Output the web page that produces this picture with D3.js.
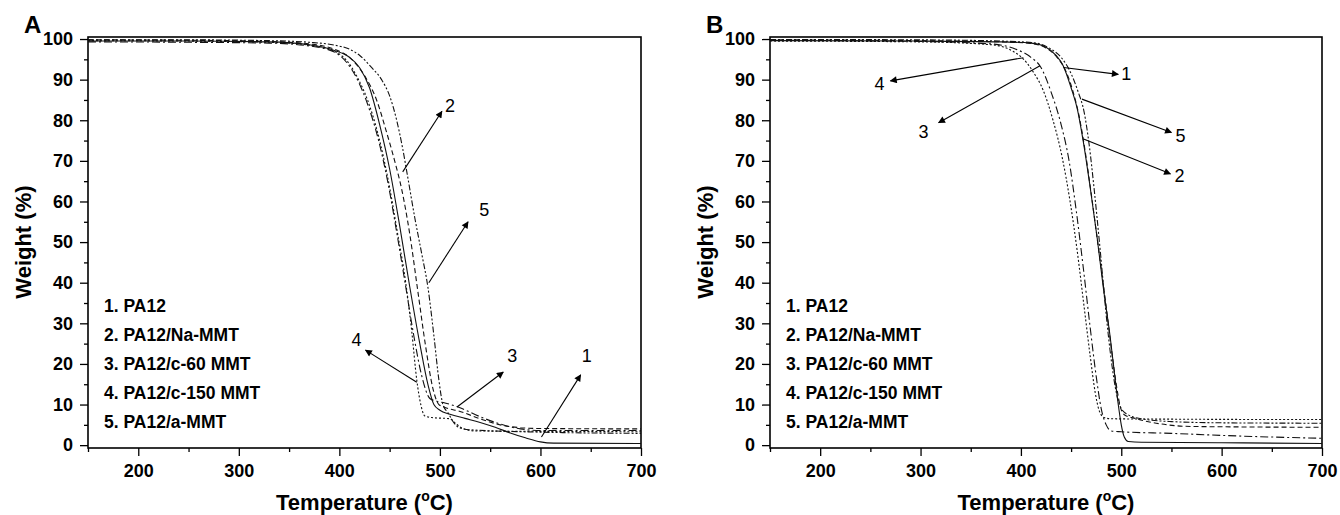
<!DOCTYPE html>
<html>
<head>
<meta charset="utf-8">
<script src="https://cdn.jsdelivr.net/npm/d3@7"></script>
<style>
  body { margin: 0; background: #fff; }
  svg { font-family: "Liberation Sans", Arial, sans-serif; }
</style>
</head>
<body>
<script>
// tick values
var xTicks = [200, 300, 400, 500, 600, 700];
var xMinor = [150, 250, 350, 450, 550, 650];
var yTicks = [0, 10, 20, 30, 40, 50, 60, 70, 80, 90, 100];
var yMinor = [5, 15, 25, 35, 45, 55, 65, 75, 85, 95];

var legendNames = ["1. PA12", "2. PA12/Na-MMT", "3. PA12/c-60 MMT", "4. PA12/c-150 MMT", "5. PA12/a-MMT"];

// panel A curves [temperature, weight]
var a1 = [[150,99.5],[250,99.5],[330,99.3],[370,98.6],[395,97.2],[410,95.5],[420,93],[430,88],[440,79],[450,68],[460,54],[470,39],[480,25],[488,15],[494,10],[500,8.6],[510,7.6],[525,6.6],[540,5.6],[555,4.4],[570,3],[585,1.8],[600,0.8],[613,0.5],[700,0.4]];
var a2 = [[150,99.8],[250,99.7],[330,99.4],[370,98.8],[395,97.5],[410,95.5],[425,91],[437,85],[447,77],[455,70],[462,63],[470,52],[478,38],[486,24],[493,14],[499,10],[505,9.3],[520,8.3],[540,6.5],[560,5],[580,4.3],[600,4.1],[700,4.0]];
var a3 = [[150,99.3],[250,99.2],[330,99],[370,98.3],[395,96.8],[408,94],[418,90],[428,84],[438,76],[448,65],[458,51],[466,39],[474,27],[482,17],[490,11.5],[497,10.8],[505,10.4],[520,9.2],[540,7],[560,5.2],[580,4],[600,3.6],[700,3.6]];
var a4 = [[150,99.6],[250,99.5],[330,99.2],[370,98.5],[395,97],[408,94.5],[418,90.5],[428,85],[438,77],[448,66],[458,52],[466,40],[472,28],[477,16],[481,10],[485,7.2],[492,6.8],[510,6.5],[515,5.5],[522,4.2],[535,3.5],[600,3.4],[700,3.3]];
var a5 = [[150,99.8],[250,99.8],[330,99.6],[370,99.2],[395,98.5],[410,97.5],[420,96],[432,93],[442,90],[450,86],[457,80],[463,73],[468,66],[475,56],[482,47],[488,39],[494,27],[499,16],[503,10],[508,8],[514,5.5],[520,4.2],[530,3.8],[600,3.2],[700,2.9]];

// panel B curves
var b1 = [[150,99.6],[300,99.5],[380,99.3],[410,99],[425,98],[435,96],[442,93.5],[450,88],[456,83],[462,75],[469,63.5],[476,51],[482,39],[489,26.5],[494,16],[497,10],[500,5],[503,2],[507,0.9],[520,0.7],[600,0.6],[700,0.4]];
var b2 = [[150,99.8],[300,99.6],[380,99.3],[410,98.9],[425,97.8],[436,95.5],[444,92.5],[452,87],[458,81],[463,74],[470,62],[477,49],[484,36],[490,24],[495,15],[499,9.5],[503,7.5],[515,6.5],[540,5.2],[570,4.6],[700,4.4]];
var b3 = [[150,99.7],[300,99.4],[370,98.8],[395,97.5],[410,95.5],[420,93],[430,87],[440,79],[448,70],[455,58],[462,44],[469,29],[475,17],[480,9],[485,5],[490,3.5],[500,3.3],[550,2.9],[600,2.4],[650,2],[700,1.7]];
var b4 = [[150,99.5],[300,99.3],[370,98.6],[392,97],[402,95.2],[412,92],[422,87.5],[432,80],[441,71],[449,60],[456,48],[463,34],[469,22],[474,13],[478,8.5],[483,6.8],[490,6.5],[550,6.4],[700,6.3]];
var b5 = [[150,99.9],[300,99.8],[380,99.5],[415,99],[430,97.5],[440,95.5],[450,91.5],[457,87],[463,82],[468,74],[473,63],[479,48],[485,32],[490,21],[495,13],[500,9],[506,7.6],[520,6.5],[550,5.8],[600,5.5],[700,5.4]];

// arrows: [label, tailT, tailW, headT, headW, labelT, labelW]
var arrowsA = [
  ["2", 463, 67.3, 502, 82.2, 510, 83.5],
  ["5", 489, 40, 528, 55, 544, 58],
  ["4", 477, 15.5, 426, 23.4, 417, 26],
  ["3", 517, 9.4, 563, 18, 572, 22],
  ["1", 601, 2, 640, 17.3, 646, 22]
];
var arrowsB = [
  ["4", 402.5, 95.4, 270, 89.7, 259, 88.9],
  ["3", 419, 93.4, 318, 79.4, 303, 77],
  ["1", 442.4, 93, 497, 91.3, 505, 91.5],
  ["5", 460.8, 85.2, 550, 77, 559, 76.2],
  ["2", 462.4, 75.4, 549, 66.8, 558, 66.3]
];

var dashes = [null, "5,3", "8,3,2,3", "2,2", "6,2,2,2,2,2"];

var svg = d3.select("body").append("svg")
  .attr("width", 1340)
  .attr("height", 515);

svg.append("defs").append("marker")
  .attr("id", "head")
  .attr("viewBox", "0 0 10 10")
  .attr("refX", 9).attr("refY", 5)
  .attr("markerWidth", 10).attr("markerHeight", 7)
  .attr("markerUnits", "userSpaceOnUse")
  .attr("orient", "auto")
  .append("path").attr("d", "M0,0 L10,5 L0,10 z").attr("fill", "#000");

function drawPanel(left, right, letter, curves, arrows) {
  var x = d3.scaleLinear().domain([150, 700]).range([left, right]);
  var y = d3.scaleLinear().domain([-0.7, 100.5]).range([448, 37]);
  var g = svg.append("g");

  // minor ticks
  g.append("g").attr("transform", `translate(0,${y(-0.7)})`)
    .call(d3.axisBottom(x).tickValues(xMinor).tickSize(4).tickFormat(""))
    .call(a => a.select(".domain").remove());
  g.append("g").attr("transform", `translate(${left},0)`)
    .call(d3.axisLeft(y).tickValues(yMinor).tickSize(4).tickFormat(""))
    .call(a => a.select(".domain").remove());

  var xa = g.append("g").attr("transform", `translate(0,${y(-0.7)})`)
    .call(d3.axisBottom(x).tickValues(xTicks).tickSize(8).tickPadding(8));
  var ya = g.append("g").attr("transform", `translate(${left},0)`)
    .call(d3.axisLeft(y).tickValues(yTicks).tickSize(8).tickPadding(7));
  [xa, ya].forEach(function(a) {
    a.select(".domain").remove();
    a.selectAll("text")
      .style("font-size", "18px").style("font-weight", "bold")
      .style("font-family", "'Liberation Sans', Arial, sans-serif")
      .attr("fill", "#000");
  });
  g.selectAll(".tick line").attr("stroke", "#000").attr("stroke-width", 1.3);

  // frame
  g.append("rect")
    .attr("x", left).attr("y", y(100.5))
    .attr("width", right - left).attr("height", y(-0.7) - y(100.5))
    .attr("fill", "none").attr("stroke", "#000").attr("stroke-width", 1.6);

  var line = d3.line()
    .x(d => x(d[0]))
    .y(d => y(d[1]))
    .curve(d3.curveMonotoneX);

  curves.forEach(function(c, i) {
    g.append("path")
      .attr("d", line(c))
      .attr("fill", "none")
      .attr("stroke", "#111")
      .attr("stroke-width", 1.1)
      .attr("stroke-dasharray", dashes[i]);
  });

  arrows.forEach(function(a) {
    g.append("line")
      .attr("x1", x(a[1])).attr("y1", y(a[2]))
      .attr("x2", x(a[3])).attr("y2", y(a[4]))
      .attr("stroke", "#000").attr("stroke-width", 1.1)
      .attr("marker-end", "url(#head)");
    g.append("text")
      .attr("x", x(a[5])).attr("y", y(a[6]))
      .attr("text-anchor", "middle")
      .attr("dominant-baseline", "central")
      .style("font-size", "18px")
      .text(a[0]);
  });

  // legend
  g.selectAll(".leg").data(legendNames).enter().append("text")
    .attr("x", left + 16)
    .attr("y", (d, i) => 306 + i * 29)
    .attr("dominant-baseline", "central")
    .style("font-size", "17.5px")
    .style("font-weight", "bold")
    .text(d => d);

  // axis titles
  var tt = g.append("text")
    .attr("x", (left + right) / 2).attr("y", 510)
    .attr("text-anchor", "middle")
    .style("font-size", "22px").style("font-weight", "bold");
  tt.append("tspan").text("Temperature (");
  tt.append("tspan").style("font-size", "14px").attr("dy", -9).text("o");
  tt.append("tspan").attr("dy", 9).text("C)");

  g.append("text")
    .attr("transform", `translate(${left - 57},${(y(0) + y(100)) / 2}) rotate(-90)`)
    .attr("text-anchor", "middle")
    .style("font-size", "22px").style("font-weight", "bold")
    .text("Weight (%)");

  g.append("text")
    .attr("x", left - 64).attr("y", 33)
    .style("font-size", "24px").style("font-weight", "bold")
    .text(letter);
}

drawPanel(88, 641, "A", [a1, a2, a3, a4, a5], arrowsA);
drawPanel(770, 1322, "B", [b1, b2, b3, b4, b5], arrowsB);
</script>
</body>
</html>
